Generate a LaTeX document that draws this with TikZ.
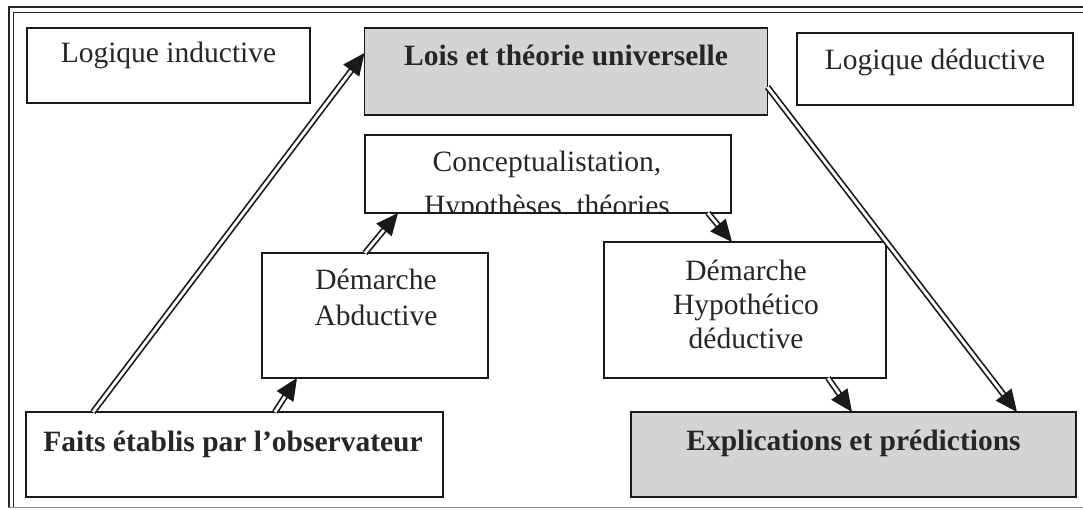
\documentclass[tikz,border=0pt]{standalone}
\usepackage{fontspec}
\setmainfont{Liberation Serif}
\usetikzlibrary{calc}
\definecolor{boxgray}{RGB}{212,212,212}
\newcommand\dblarr[2]{%
  \draw[shaft, shorten >=17pt] (#1) -- (#2);
  \coordinate (hb) at ($(#2)!22pt!(#1)$);
  \fill[black!90] (#2) -- ($(hb)!10pt!90:(#2)$) -- ($(hb)!10pt!-90:(#2)$) -- cycle;
}
\tikzset{
  box/.style={draw=black!90, line width=1.4pt, rectangle, inner sep=0pt, outer sep=0pt, fill=white},
  graybox/.style={box, fill=boxgray},
  txt/.style={inner sep=0pt, anchor=base, text=black!85, font=\fontsize{29.5}{34}\selectfont},
  btxt/.style={txt, font=\fontsize{29.5}{34}\selectfont\bfseries},
  shaft/.style={draw=black!90, line width=1.7pt, double=white, double distance=2.8pt},
  frame/.style={draw=black!85}
}
\begin{document}
\begin{tikzpicture}[x=1pt, y=-1pt]
\useasboundingbox (0,0) rectangle (1083,510);
% frame
\draw[frame, line width=2pt] (8,7) -- (1083,7);
\draw[frame, line width=1pt] (13,12.5) -- (1083,12.5);
\draw[frame, line width=2pt] (8.5,7) -- (8.5,507);
\draw[frame, line width=1pt] (13,12.5) -- (13,507);
\draw[draw=black!45, line width=1pt] (8,507) -- (1083,507);
% boxes
\node[box, minimum width=283pt, minimum height=75pt] (li) at (168.5,65.5) {};
\node[graybox, minimum width=403pt, minimum height=87pt] (lois) at (566,71.5) {};
\node[box, minimum width=276pt, minimum height=72pt] (ld) at (935,69) {};
\node[box, minimum width=366pt, minimum height=78pt] (con) at (548,174) {};
\node[box, minimum width=226pt, minimum height=125pt] (abd) at (375,315.5) {};
\node[box, minimum width=282pt, minimum height=136pt] (hyp) at (745,310) {};
\node[box, minimum width=417pt, minimum height=85pt] (faits) at (234.5,454.5) {};
\node[graybox, minimum width=445pt, minimum height=85pt] (exp) at (853.5,454.5) {};
% texts
\node[txt] (tli) at (168.5,63) {Logique inductive};
\node[btxt] (tlois) at (566,66) {Lois et théorie universelle};
\node[txt] (tld) at (935,70) {Logique déductive};
\node[txt] (tcon1) at (547,172) {Conceptualistation,};
\begin{scope}
  \clip (con.north west) rectangle ($(con.south east)+(0,-1.5)$);
  \node[txt] (tcon2) at (547,216) {Hypothèses, théories};
\end{scope}
\node[txt] (tabd1) at (376,290) {Démarche};
\node[txt] (tabd2) at (376,325) {Abductive};
\node[txt] (thyp1) at (746,280) {Démarche};
\node[txt] (thyp2) at (746,314) {Hypothético};
\node[txt] (thyp3) at (746,348) {déductive};
\node[btxt] (tfaits) at (233,451) {Faits établis par l’observateur};
\node[btxt] (texp) at (853.5,450) {Explications et prédictions};
% arrows
\dblarr{$(faits.north west)+(67,0)$}{$(lois.north west)+(0,25)$}
\dblarr{$(faits.north west)+(249,0)$}{$(abd.south west)+(35,0)$}
\dblarr{$(abd.north west)+(103,0)$}{$(con.south west)+(33,0)$}
\dblarr{$(con.south west)+(343,0)$}{$(hyp.north west)+(128,0)$}
\dblarr{$(hyp.south west)+(224,0)$}{$(exp.north west)+(221,0)$}
\dblarr{$(lois.north east)+(0,59)$}{$(exp.north west)+(386,0)$}
\end{tikzpicture}
\end{document}
